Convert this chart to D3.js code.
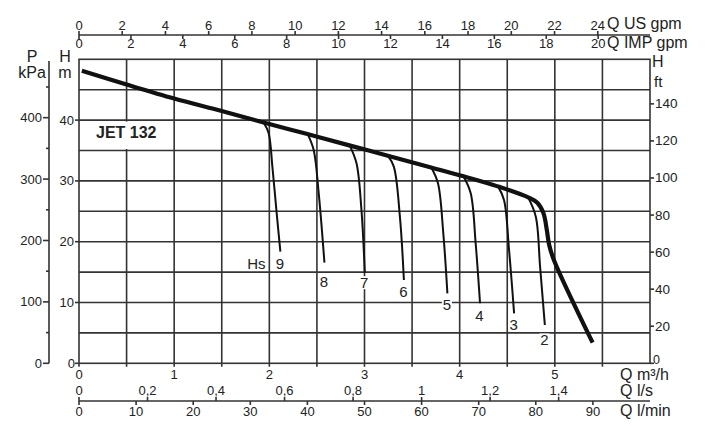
<!DOCTYPE html>
<html><head><meta charset="utf-8">
<script src="https://cdn.jsdelivr.net/npm/d3@7"></script>
<style>body{margin:0;background:#fff}svg{display:block}text{font-family:"Liberation Sans",Arial,sans-serif;fill:#222}</style>
</head><body><svg id="c" width="721" height="440"></svg>
<script>
// ---- data ----
const qRange = [0, 6];          // m3/h
const hRange = [0, 50];         // m
const mainCurve = [[0.03,48.1],[0.5,45.85],[1.0,43.55],[1.5,41.5],[1.94,39.6],[2.40,37.7],[2.85,35.8],[3.245,34.15],[3.70,32.2],[4.04,30.75],[4.40,29.1],[4.72,27.3],[4.816,26.4],[4.88,24.7],[4.916,21.9],[4.94,19.5],[4.99,17.0],[5.397,3.4]];
const hsNames = ["9","8","7","6","5","4","3","2"];
const hsCurves = [
  [[1.94,39.6],[1.993,37.83],[2.032,32.34],[2.074,25.21],[2.116,18.36]],
  [[2.403,37.7],[2.466,35.09],[2.519,27.96],[2.579,16.55]],
  [[2.845,35.8],[2.916,32.89],[2.968,25.21],[3.003,14.9]],
  [[3.245,34.15],[3.308,32.34],[3.372,24.11],[3.414,13.7]],
  [[3.702,32.2],[3.772,29.6],[3.828,21.38],[3.871,11.51]],
  [[4.039,30.75],[4.116,27.96],[4.168,19.74],[4.214,9.87]],
  [[4.403,29.1],[4.466,26.86],[4.519,18.63],[4.572,8.22]],
  [[4.719,27.3],[4.8,24.11],[4.845,15.89],[4.895,6.3]]
];
const m3hTicks = [0,1,2,3,4,5];
const lsTicks = [0,0.2,0.4,0.6,0.8,1,1.2,1.4];
const lminTicks = [0,10,20,30,40,50,60,70,80,90];
const usTicks = [0,2,4,6,8,10,12,14,16,18,20,22,24];
const impTicks = [0,2,4,6,8,10,12,14,16,18,20];
const hTicks = [0,10,20,30,40];
const kpaTicks = [0,100,200,300,400];
const kpaMinor = [50,150,250,350,450];
const ftTicks = [0,20,40,60,80,100,120,140];
const title = "JET 132";

// ---- scales ----
const L=79,R=650,T=59.3,B=363.3;
const x = d3.scaleLinear(qRange,[L,R]);
const y = d3.scaleLinear(hRange,[B,T]);
const xUS = d3.scaleLinear([0,6*4.40287],[L,R]);
const xIMP = d3.scaleLinear([0,6*3.66615],[L,R]);
const xLS = d3.scaleLinear([0,6/3.6],[L,R]);
const xLMIN = d3.scaleLinear([0,100],[L,R]);
const yKPA = d3.scaleLinear([0,400],[B,y(40.4)]);
const yFT = d3.scaleLinear([0,50/0.3048],[B,T]);
const fmt = v => String(v).replace(".",",");

const svg = d3.select("#c");
const stroke="#333";

// grid
const g = svg.append("g").attr("stroke",stroke).attr("stroke-width",1.6);
d3.range(0.5,6,0.5).forEach(q=>g.append("line").attr("x1",x(q)).attr("x2",x(q)).attr("y1",T).attr("y2",B+3.5));
d3.range(5,50,5).forEach(h=>g.append("line").attr("x1",L).attr("x2",R).attr("y1",y(h)).attr("y2",y(h)));
g.append("rect").attr("x",L).attr("y",T).attr("width",R-L).attr("height",B-T).attr("fill","none");
g.append("line").attr("x1",L).attr("x2",L).attr("y1",B).attr("y2",B+3.5);
hTicks.forEach(h=>g.append("line").attr("x1",L-4).attr("x2",L).attr("y1",y(h)).attr("y2",y(h)));
ftTicks.forEach(f=>g.append("line").attr("x1",R).attr("x2",R+4).attr("y1",yFT(f)).attr("y2",yFT(f)));

// title label with white background
svg.append("rect").attr("x",88).attr("y",y(40)+1.5).attr("width",82).attr("height",y(35)-y(40)-3).attr("fill","#fff");
svg.append("text").attr("x",96).attr("y",138).attr("font-size",16).attr("font-weight","bold").text(title);

// curves
const line = d3.line().x(d=>x(d[0])).y(d=>y(d[1])).curve(d3.curveCatmullRom.alpha(0.5));
hsCurves.forEach(c=>svg.append("path").attr("d",line(c)).attr("fill","none").attr("stroke","#111").attr("stroke-width",2));
svg.append("path").attr("d",line(mainCurve)).attr("fill","none").attr("stroke","#111").attr("stroke-width",4.2).attr("stroke-linejoin","round");

// Hs labels
const labOff=[12,19,10,12,11,12,11,15];
hsCurves.forEach((c,i)=>{
  const e=c[c.length-1];
  const cx=x(e[0])-0.5, cy=y(e[1])+labOff[i];
  svg.append("rect").attr("x",cx-5).attr("y",cy-6.5).attr("width",10).attr("height",13).attr("fill","#fff");
  svg.append("text").attr("x",cx).attr("y",cy+5.3).attr("text-anchor","middle").attr("font-size",15).text(hsNames[i]);
});
{
  const e=hsCurves[0][hsCurves[0].length-1];
  svg.append("text").attr("x",x(e[0])-24).attr("y",y(e[1])+12+5.3).attr("text-anchor","middle").attr("font-size",15).text("Hs");
}

// left H labels
hTicks.forEach(h=>svg.append("text").attr("x",h===0?75:74).attr("y",y(h)+4.5).attr("text-anchor","end").attr("font-size",13).text(h));
svg.append("text").attr("x",65).attr("y",62).attr("text-anchor","middle").attr("font-size",16).text("H");
svg.append("text").attr("x",65).attr("y",78).attr("text-anchor","middle").attr("font-size",16).text("m");

// kPa axis
const ka = svg.append("g").attr("stroke",stroke).attr("stroke-width",1.6);
ka.append("line").attr("x1",49).attr("x2",49).attr("y1",61).attr("y2",B);
kpaTicks.forEach(k=>ka.append("line").attr("x1",43).attr("x2",49).attr("y1",yKPA(k)).attr("y2",yKPA(k)));
kpaMinor.forEach(k=>ka.append("line").attr("x1",46).attr("x2",49).attr("y1",yKPA(k)).attr("y2",yKPA(k)));
kpaTicks.forEach(k=>svg.append("text").attr("x",42).attr("y",yKPA(k)+4.5).attr("text-anchor","end").attr("font-size",13).text(k));
svg.append("text").attr("x",32).attr("y",62).attr("text-anchor","middle").attr("font-size",16).text("P");
svg.append("text").attr("x",32).attr("y",78).attr("text-anchor","middle").attr("font-size",16).text("kPa");

// right ft labels
ftTicks.forEach(f=>svg.append("text").attr("x",f===0?653:655).attr("y",yFT(f)+(f===0?0.5:4.5)).attr("font-size",f===0?12.5:13.5).text(f));
svg.append("text").attr("x",652).attr("y",67).attr("font-size",16).text("H");
svg.append("text").attr("x",654).attr("y",87).attr("font-size",15).text("ft");

// bottom m3/h labels
m3hTicks.forEach(q=>svg.append("text").attr("x",x(q)).attr("y",379).attr("text-anchor","middle").attr("font-size",13).text(q));
svg.append("text").attr("x",620).attr("y",380).attr("font-size",16).text("Q m³/h");

// bottom l/s & l/min axis
const ba = svg.append("g").attr("stroke",stroke).attr("stroke-width",1.6);
ba.append("line").attr("x1",L).attr("x2",R).attr("y1",401).attr("y2",401);
lsTicks.forEach(v=>ba.append("line").attr("x1",xLS(v)).attr("x2",xLS(v)).attr("y1",397).attr("y2",401));
lminTicks.forEach(v=>ba.append("line").attr("x1",xLMIN(v)).attr("x2",xLMIN(v)).attr("y1",401).attr("y2",405));
lsTicks.forEach(v=>svg.append("text").attr("x",xLS(v)).attr("y",395).attr("text-anchor","middle").attr("font-size",13).text(fmt(v)));
lminTicks.forEach(v=>svg.append("text").attr("x",xLMIN(v)).attr("y",416).attr("text-anchor","middle").attr("font-size",13).text(v));
svg.append("text").attr("x",620).attr("y",396).attr("font-size",16).text("Q l/s");
svg.append("text").attr("x",620).attr("y",416).attr("font-size",16).text("Q l/min");

// top gpm axis
const ta = svg.append("g").attr("stroke",stroke).attr("stroke-width",1.6);
ta.append("line").attr("x1",L).attr("x2",R).attr("y1",35).attr("y2",35);
usTicks.forEach(v=>ta.append("line").attr("x1",xUS(v)).attr("x2",xUS(v)).attr("y1",31).attr("y2",35));
impTicks.forEach(v=>ta.append("line").attr("x1",xIMP(v)).attr("x2",xIMP(v)).attr("y1",35).attr("y2",39));
usTicks.forEach(v=>svg.append("text").attr("x",xUS(v)).attr("y",30).attr("text-anchor","middle").attr("font-size",13).text(v));
impTicks.forEach(v=>svg.append("text").attr("x",xIMP(v)).attr("y",48).attr("text-anchor","middle").attr("font-size",13).text(v));
svg.append("text").attr("x",607).attr("y",29).attr("font-size",16).text("Q US gpm");
svg.append("text").attr("x",607).attr("y",48).attr("font-size",16).text("Q IMP gpm");
</script></body></html>
